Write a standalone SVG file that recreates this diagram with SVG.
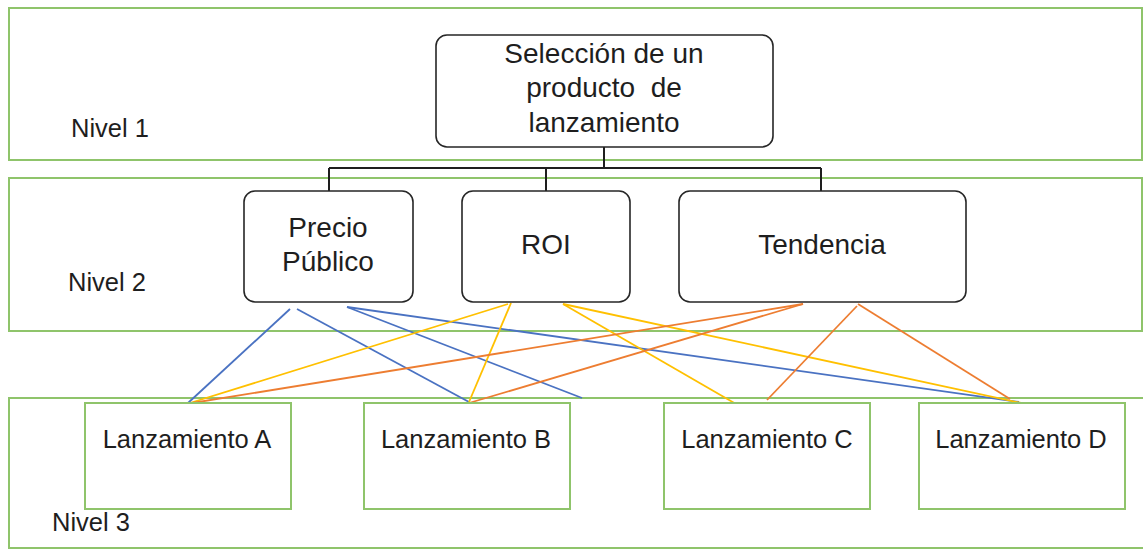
<svg xmlns="http://www.w3.org/2000/svg" width="1143" height="550" viewBox="0 0 1143 550">
<style>
.lvl{fill:none;stroke:#8fc46b;stroke-width:2}
.nb{fill:#fff;stroke:#262626;stroke-width:1.6}
.lb{fill:#fff;stroke:#8fc46b;stroke-width:2}
text{font-family:"Liberation Sans",Arial,sans-serif;fill:#1e1e1e}
.t27{font-size:28px;text-anchor:middle}
.t25{font-size:25.5px;text-anchor:middle}
.nv{font-size:25.5px}
.tree{fill:none;stroke:#1e1e1e;stroke-width:2}
.b{stroke:#4a72c2;stroke-width:1.8;fill:none}
.y{stroke:#ffc000;stroke-width:1.8;fill:none}
.o{stroke:#ed7d31;stroke-width:1.8;fill:none}
</style>
<rect width="1143" height="550" fill="#fff"/>
<g id="levels">
<rect class="lvl" x="9" y="8" width="1133" height="152"/>
<rect class="lvl" x="9" y="178" width="1133" height="153"/>
<rect class="lvl" x="9" y="398" width="1140" height="150"/>
<text class="nv" x="71" y="137">Nivel 1</text>
<text class="nv" x="68" y="291">Nivel 2</text>
<text class="nv" x="52" y="531">Nivel 3</text>
</g>
<g id="connectors">
<path class="tree" d="M604 147V168M329 168H821M329 168V191M546 168V191M821 168V191"/>
<line class="b" x1="290" y1="309" x2="188" y2="403"/>
<line class="b" x1="297" y1="309" x2="469" y2="402"/>
<line class="b" x1="347" y1="307" x2="582" y2="398"/>
<line class="b" x1="347" y1="307" x2="1019" y2="402"/>
<line class="y" x1="508" y1="304" x2="190" y2="403"/>
<line class="y" x1="511" y1="303" x2="469" y2="402"/>
<line class="y" x1="563" y1="304" x2="736" y2="404"/>
<line class="y" x1="563" y1="304" x2="1021" y2="403"/>
<line class="o" x1="803" y1="304" x2="186" y2="404"/>
<line class="o" x1="803" y1="304" x2="469" y2="403"/>
<line class="o" x1="857" y1="306" x2="767" y2="400"/>
<line class="o" x1="858" y1="304" x2="1010" y2="399"/>
</g>
<g id="n-seleccion">
<rect class="nb" x="436" y="35" width="337" height="112" rx="11"/>
<text class="t27" x="604" y="63">Selección de un</text>
<text class="t27" x="604" y="97" xml:space="preserve">producto  de</text>
<text class="t27" x="604" y="132">lanzamiento</text>
</g>
<g id="n-precio">
<rect class="nb" x="244" y="191" width="169" height="111" rx="11"/>
<text class="t27" x="328" y="237">Precio</text>
<text class="t27" x="328" y="271">Público</text>
</g>
<g id="n-roi">
<rect class="nb" x="462" y="191" width="168" height="111" rx="11"/>
<text class="t27" x="546" y="254">ROI</text>
</g>
<g id="n-tendencia">
<rect class="nb" x="679" y="191" width="287" height="111" rx="11"/>
<text class="t27" x="822" y="254">Tendencia</text>
</g>
<g id="n-a">
<rect class="lb" x="85" y="403" width="206" height="106"/>
<text class="t25" x="187" y="448">Lanzamiento A</text>
</g>
<g id="n-b">
<rect class="lb" x="364" y="403" width="206" height="106"/>
<text class="t25" x="466" y="448">Lanzamiento B</text>
</g>
<g id="n-c">
<rect class="lb" x="664" y="403" width="206" height="106"/>
<text class="t25" x="767" y="448">Lanzamiento C</text>
</g>
<g id="n-d">
<rect class="lb" x="919" y="403" width="206" height="106"/>
<text class="t25" x="1021" y="448">Lanzamiento D</text>
</g>
</svg>
